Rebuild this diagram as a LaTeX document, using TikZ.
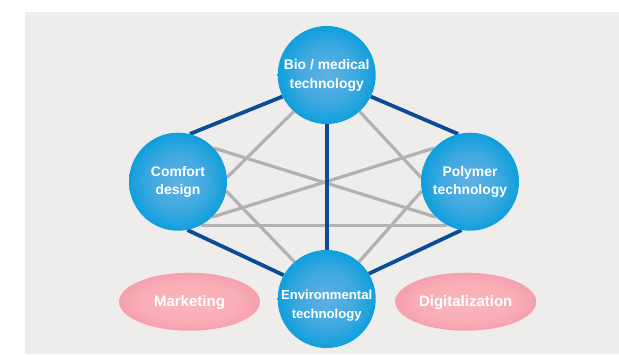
\documentclass[tikz,border=0pt]{standalone}
\usepackage{fontspec}
\setmainfont{Liberation Sans}
\usetikzlibrary{shapes.geometric}
\definecolor{panel}{HTML}{EEEDEB}
\definecolor{linkblue}{HTML}{0B4C96}
\definecolor{linkgray}{HTML}{B2B2B2}
\pgfdeclareradialshading{ballshade}{\pgfpointorigin}{
  rgb(0bp)=(0.38,0.69,0.89);
  rgb(15bp)=(0.24,0.66,0.88);
  rgb(26bp)=(0.04,0.62,0.86);
  rgb(50bp)=(0.04,0.62,0.86)}
\pgfdeclareradialshading{pinkshade}{\pgfpointorigin}{
  rgb(0bp)=(0.98,0.71,0.74);
  rgb(17bp)=(0.975,0.68,0.72);
  rgb(28bp)=(0.96,0.61,0.66);
  rgb(35bp)=(0.97,0.66,0.71);
  rgb(50bp)=(0.97,0.66,0.71)}
\pgfdeclarelayer{under}
\pgfsetlayers{under,main}
\tikzset{
  labeltext/.style={text=white,font=\fontsize{13.9}{19}\selectfont\bfseries,align=center,inner sep=0pt},
  ball/.style={circle,minimum size=98pt,inner sep=0pt,shading=ballshade},
  pill/.style={ellipse,minimum width=141pt,minimum height=58pt,inner sep=0pt,shading=pinkshade},
  hub/.style={draw=linkblue,line width=3.8pt},
  weak/.style={draw=linkgray,line width=3.2pt}
}
\begin{document}
\begin{tikzpicture}[x=1pt,y=-1pt]
\useasboundingbox (0,0) rectangle (619,354);
\node[ball,labeltext] (top) at (326.7,75) {\begin{tabular}{@{}c@{}}Bio / medical\\[-0.5pt]technology\end{tabular}};
\node[ball,labeltext] (left) at (178,181.7) {\begin{tabular}{@{}c@{}}Comfort\\[-0.5pt]design\end{tabular}};
\node[ball,labeltext] (right) at (470,181.7) {\begin{tabular}{@{}c@{}}Polymer\\[-0.5pt]technology\end{tabular}};
\node[ball,labeltext,font=\fontsize{13.1}{19}\selectfont\bfseries] (bottom) at (326.7,299) {\raisebox{-9pt}[0pt][0pt]{\begin{tabular}{@{}c@{}}Environmental\\[-0.5pt]technology\end{tabular}}};
\node[pill,labeltext,font=\fontsize{15}{19}\selectfont\bfseries] (mkt) at (189.5,301.7) {\raisebox{0pt}[\dimexpr\height+2pt\relax]{Marketing}};
\node[pill,labeltext,font=\fontsize{15}{19}\selectfont\bfseries] (dig) at (465.7,301.7) {\raisebox{0pt}[\dimexpr\height+2pt\relax]{Digitalization}};
\begin{pgfonlayer}{under}
\fill[panel] (25,12) rectangle (619,354);
\draw[weak] (top.228) -- (left.5);
\draw[weak] (top.-48) -- (right.175);
\draw[weak] (left.-11) -- (bottom.131);
\draw[weak] (right.191) -- (bottom.49);
\draw[weak] (left.43) -- (right.-134);
\draw[weak] (right.137) -- (left.-46);
\draw[weak] (left.-62) -- (right.-118);
\draw[hub] (top.206) -- (left.76);
\draw[hub] (top.-26) -- (right.104);
\draw[hub] (left.-79) -- (bottom.151);
\draw[hub] (right.-100) -- (bottom.31);
\draw[hub] (top) -- (bottom);
\end{pgfonlayer}
\end{tikzpicture}
\end{document}
